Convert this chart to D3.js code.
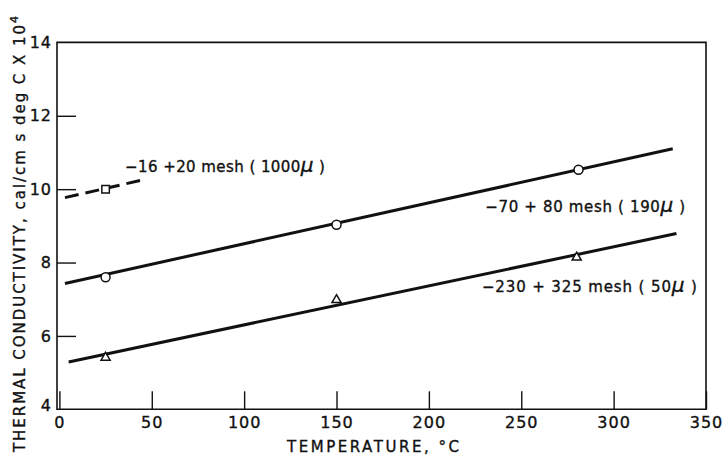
<!DOCTYPE html>
<html>
<head>
<meta charset="utf-8">
<script src="https://cdn.jsdelivr.net/npm/d3@7"></script>
<style>
  body { margin: 0; background: #fff; }
  text { font-family: "DejaVu Sans", "Liberation Sans", sans-serif; fill: #111; stroke: #111; stroke-width: 0.35px; }
</style>
</head>
<body>
<div id="chart"></div>
<script>
// Size of the picture
var w = 727;
var h = 456;

// Axis ticks
var xTicks = [0, 50, 100, 150, 200, 250, 300, 350];
var yTicks = [4, 6, 8, 10, 12, 14];

// Measured points (temperature, conductivity)
var squareX = [25];
var squareY = [10.0];
var circleX = [25, 150, 281];
var circleY = [7.6, 9.03, 10.53];
var triangleX = [25, 150, 280];
var triangleY = [5.41, 6.98, 8.14];

// Fitted lines, ends
var dashLineX = [3, 45];
var dashLineY = [9.77, 10.25];
var circleLineX = [3, 332];
var circleLineY = [7.43, 11.1];
var triLineX = [5, 334];
var triLineY = [5.29, 8.79];

// Series labels
var labelText = ["\u221216 +20  mesh ( 1000", "\u221270 + 80  mesh ( 190", "\u2212230 + 325  mesh ( 50"];
var labelX = [35.5, 230.5, 228.7];
var labelY = [10.48, 9.39, 7.19];

// Scales
var x = d3.scaleLinear().domain([0, 350]).range([59.4, 706]);
var y = d3.scaleLinear().domain([4, 14]).range([409.3, 42.4]);

var svg = d3.select("#chart")
  .append("svg")
  .attr("width", w)
  .attr("height", h);

// Frame: left, bottom, top, right
svg.append("path")
  .attr("d", "M57," + y(14) + "H" + x(350) + "V" + y(4) + "H57Z")
  .attr("fill", "none")
  .attr("stroke", "#111")
  .attr("stroke-width", 1.6);

// Bottom axis, ticks pointing inward
var xAxis = svg.append("g")
  .attr("transform", "translate(0," + y(4) + ")")
  .call(d3.axisBottom(x).tickValues(xTicks).tickSizeInner(-18).tickSizeOuter(0));
xAxis.select(".domain").remove();
xAxis.selectAll("line").attr("stroke", "#111").attr("stroke-width", 1.4);
xAxis.selectAll("text")
  .attr("y", 7)
  .style("font-size", "16px")
  .style("letter-spacing", "1px")
  .attr("fill", "#111");

// Left axis, ticks pointing inward
var yAxis = svg.append("g")
  .attr("transform", "translate(57,0)")
  .call(d3.axisLeft(y).tickValues(yTicks).tickSizeInner(-19).tickSizeOuter(0));
yAxis.select(".domain").remove();
yAxis.selectAll("line").attr("stroke", "#111").attr("stroke-width", 1.4);
yAxis.selectAll(".tick").filter(function(d) { return d === 14 || d === 4; }).select("line").remove();
yAxis.selectAll("text")
  .attr("x", -5)
  .style("font-size", "16px")
  .style("letter-spacing", "1px")
  .attr("fill", "#111");
yAxis.selectAll(".tick").filter(function(d) { return d === 4; }).select("text").attr("dy", "0.1em");

// Axis titles
svg.append("text")
  .attr("x", 287)
  .attr("y", 452)
  .attr("textLength", 172)
  .attr("lengthAdjust", "spacing")
  .style("font-size", "15px")
  .text("TEMPERATURE, \u00b0C");

var yTitle = svg.append("text")
  .attr("transform", "translate(25,452) rotate(-90)")
  .attr("textLength", 436)
  .attr("lengthAdjust", "spacing")
  .style("font-size", "15px");
yTitle.append("tspan").text("THERMAL CONDUCTIVITY, cal/cm s deg C X 10");
yTitle.append("tspan").attr("dy", -7).style("font-size", "11px").text("4");

// Fitted lines
var line = d3.line()
  .x(function(d) { return x(d[0]); })
  .y(function(d) { return y(d[1]); });

svg.append("path")
  .attr("d", line(d3.zip(dashLineX, dashLineY)))
  .attr("fill", "none")
  .attr("stroke", "#111")
  .attr("stroke-width", 3)
  .attr("stroke-dasharray", "14,7");

svg.append("path")
  .attr("d", line(d3.zip(circleLineX, circleLineY)))
  .attr("fill", "none")
  .attr("stroke", "#111")
  .attr("stroke-width", 3);

svg.append("path")
  .attr("d", line(d3.zip(triLineX, triLineY)))
  .attr("fill", "none")
  .attr("stroke", "#111")
  .attr("stroke-width", 3);

// Markers
svg.selectAll(".sq")
  .data(d3.zip(squareX, squareY))
  .enter()
  .append("path")
  .attr("class", "sq")
  .attr("transform", function(d) { return "translate(" + x(d[0]) + "," + y(d[1]) + ")"; })
  .attr("d", d3.symbol(d3.symbolSquare, 56))
  .attr("fill", "#fff")
  .attr("stroke", "#111")
  .attr("stroke-width", 1.5);

svg.selectAll(".circ")
  .data(d3.zip(circleX, circleY))
  .enter()
  .append("circle")
  .attr("class", "circ")
  .attr("cx", function(d) { return x(d[0]); })
  .attr("cy", function(d) { return y(d[1]); })
  .attr("r", 4.5)
  .attr("fill", "#fff")
  .attr("stroke", "#111")
  .attr("stroke-width", 1.5);

svg.selectAll(".tri")
  .data(d3.zip(triangleX, triangleY))
  .enter()
  .append("path")
  .attr("class", "tri")
  .attr("transform", function(d) { return "translate(" + x(d[0]) + "," + y(d[1]) + ")"; })
  .attr("d", d3.symbol(d3.symbolTriangle, 36))
  .attr("fill", "#fff")
  .attr("stroke", "#111")
  .attr("stroke-width", 1.5);

// Series labels with the italic mu
var labelWidths = [200, 200, 215];
labelText.forEach(function(t, i) {
  var lab = svg.append("text")
    .attr("x", x(labelX[i]))
    .attr("y", y(labelY[i]))
    .attr("textLength", labelWidths[i])
    .attr("lengthAdjust", "spacing")
    .style("font-size", "15px");
  lab.append("tspan").text(t);
  lab.append("tspan").style("font-style", "italic").style("font-size", "20px").text("\u03bc");
  lab.append("tspan").text(" )");
});
</script>
</body>
</html>
